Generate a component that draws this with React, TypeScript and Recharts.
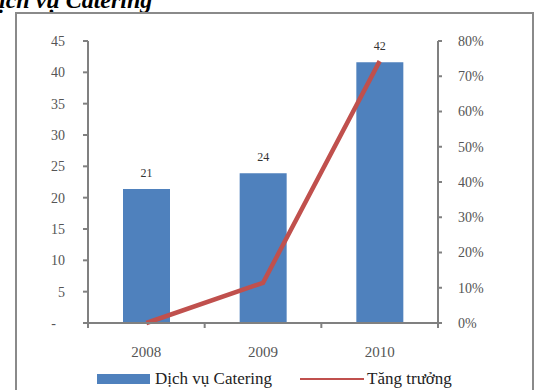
import { ComposedChart, Bar, Line, XAxis, YAxis, LabelList } from "recharts";

const years = ["2008", "2009", "2010"];
const revenue = [21.4, 23.9, 41.6];
const growth = [0, 0.114, 0.743];
const leftTicks = [0, 5, 10, 15, 20, 25, 30, 35, 40, 45];
const rightTicks = [0, 0.1, 0.2, 0.3, 0.4, 0.5, 0.6, 0.7, 0.8];

const data = years.map((year, i) => ({ year, revenue: revenue[i], growth: growth[i] }));

const W = 538;
const H = 390;
const PLOT_W = 350; // width between the two y axes
const font = '"Liberation Serif", "Times New Roman", serif';
const tickColor = "#555";
const axisColor = "#808080";

function YearTick(props: any) {
  const { x, y, payload } = props;
  const step = PLOT_W / years.length;
  return (
    <g>
      <line x1={x + step / 2} y1={y} x2={x + step / 2} y2={y + 5} stroke={axisColor} strokeWidth={2} />
      {payload.index === 0 && (
        <line x1={x - step / 2} y1={y} x2={x - step / 2} y2={y + 5} stroke={axisColor} strokeWidth={2} />
      )}
      <text x={x} y={y + 34} textAnchor="middle" fontSize={15} fill={tickColor} fontFamily={font}>
        {payload.value}
      </text>
    </g>
  );
}

function LeftTick(props: any) {
  const { x, y, payload } = props;
  const zero = payload.value === 0;
  return (
    <text x={zero ? x - 9 : x} y={y + 5} textAnchor="end" fontSize={14} fill={tickColor} fontFamily={font}>
      {zero ? "-" : payload.value}
    </text>
  );
}

export default function App() {
  return (
    <div style={{ position: "absolute", left: 0, top: 0, width: W, height: H, overflow: "hidden", background: "#fff" }}>
      <svg width={W} height={30} style={{ position: "absolute", left: 0, top: 0 }}>
        <text x={-13} y={8} fontSize={24} fontWeight="bold" fontStyle="italic" fontFamily={font} fill="#000">
          dịch vụ Catering
        </text>
      </svg>
      <div
        style={{
          position: "absolute",
          left: 15,
          top: 12,
          width: 515,
          height: 400,
          border: "2px solid #8a8a8a",
        }}
      />
      <div style={{ position: "absolute", left: 0, top: 0 }}>
        <ComposedChart width={W} height={H} data={data} margin={{ top: 41, left: 38, right: 40, bottom: 37 }} barCategoryGap={0}>
          <XAxis
            dataKey="year"
            height={30}
            tickLine={false}
            tickSize={0}
            tickMargin={0}
            axisLine={{ stroke: axisColor, strokeWidth: 2 }}
            tick={<YearTick />}
            interval={0}
          />
          <YAxis
            yAxisId="left"
            width={50}
            domain={[0, 45]}
            ticks={leftTicks}
            interval={0}
            tickSize={5}
            tickMargin={18}
            tickLine={{ stroke: axisColor, strokeWidth: 2 }}
            axisLine={{ stroke: axisColor, strokeWidth: 2 }}
            tick={<LeftTick />}
          />
          <YAxis
            yAxisId="right"
            orientation="right"
            width={60}
            domain={[0, 0.8]}
            ticks={rightTicks}
            interval={0}
            tickSize={4}
            tickMargin={16}
            tickLine={{ stroke: axisColor, strokeWidth: 2 }}
            axisLine={{ stroke: axisColor, strokeWidth: 2 }}
            tick={{ fontSize: 14, fill: tickColor, fontFamily: font }}
            tickFormatter={(v: number) => `${Math.round(v * 100)}%`}
          />
          <Bar yAxisId="left" dataKey="revenue" fill="#4F81BD" barSize={47} isAnimationActive={false}>
            <LabelList
              dataKey="revenue"
              position="top"
              offset={12}
              formatter={(v: any) => Math.round(Number(v))}
              style={{ fontSize: 12, fill: "#333", fontFamily: font }}
            />
          </Bar>
          <Line
            yAxisId="right"
            type="linear"
            dataKey="growth"
            stroke="#C0504D"
            strokeWidth={4.5}
            dot={false}
            activeDot={false}
            isAnimationActive={false}
          />
        </ComposedChart>
      </div>
      <div
        style={{
          position: "absolute",
          left: 97,
          top: 369,
          display: "flex",
          alignItems: "center",
          fontFamily: font,
          fontSize: 17,
          color: "#222",
          whiteSpace: "nowrap",
        }}
      >
        <span style={{ display: "inline-block", width: 53, height: 10, background: "#4F81BD", marginRight: 5 }} />
        <span>Dịch vụ Catering</span>
        <span style={{ display: "inline-block", width: 64, height: 2.5, background: "#C0504D", marginLeft: 28, marginRight: 3 }} />
        <span>Tăng trưởng</span>
      </div>
    </div>
  );
}
